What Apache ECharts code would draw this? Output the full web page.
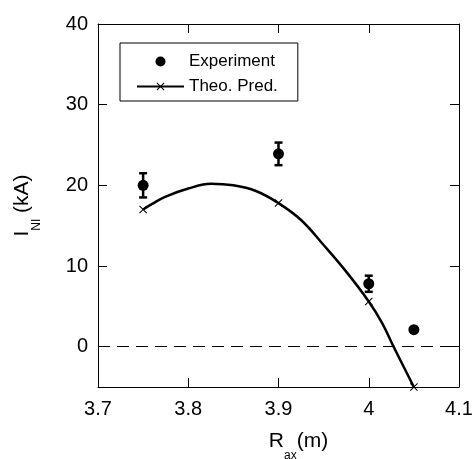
<!DOCTYPE html>
<html>
<head>
<meta charset="utf-8">
<script src="https://cdn.jsdelivr.net/npm/echarts@6/dist/echarts.min.js"></script>
<style>
  html, body { margin: 0; padding: 0; background: #fff; }
  #main { width: 475px; height: 459px; }
</style>
</head>
<body>
<div id="main"></div>
<script>
// measured points with error bars
var expX = [3.75, 3.9, 4.0, 4.05];
var expY = [20.0, 23.9, 7.8, 2.1];
var expErr = [1.5, 1.4, 1.0, 0];

// theoretical prediction points (x markers)
var predX = [3.75, 3.9, 4.0, 4.05];
var predY = [17.0, 17.8, 5.6, -5.0];

// fitted curve
var curveX = [3.75, 3.76, 3.775, 3.8, 3.825, 3.85, 3.875, 3.9, 3.925, 3.95, 3.975, 4.0, 4.015, 4.0275, 4.05];
var curveY = [17.0, 17.7, 18.6, 19.6, 20.2, 20.0, 19.3, 17.8, 15.7, 12.6, 9.3, 5.6, 2.9, 0.0, -5.0];

var xTicks = [3.7, 3.8, 3.9, 4.0, 4.1];
var yTicks = [0, 10, 20, 30, 40];

var FONT = 'Liberation Sans';
var crossPath = 'path://M0,0.9L0.9,0L10,9.1L9.1,10Z M9.1,0L10,0.9L0.9,10L0,9.1Z';

var curveData = curveX.map(function (x, i) {
  var k = predX.indexOf(x);
  if (k >= 0) return [x, predY[k]];
  return { value: [x, curveY[i]], symbol: 'none' };
});

var errData = [];
for (var i = 0; i < expX.length; i++) {
  if (expErr[i] > 0) errData.push([expX[i], expY[i] - expErr[i], expY[i] + expErr[i]]);
}

var chart = echarts.init(document.getElementById('main'));

var tickStyle = { inside: true, length: 9, lineStyle: { color: '#000', width: 1 } };
var lineStyle = { onZero: false, lineStyle: { color: '#000', width: 1 } };
var nameRich = {
  r: { fontFamily: FONT, fontSize: 21, lineHeight: 21, color: '#000', verticalAlign: 'bottom', padding: [0, 0, 10, 0] },
  s: { fontFamily: FONT, fontSize: 12, lineHeight: 12, color: '#000', verticalAlign: 'bottom' }
};

chart.setOption({
  animation: false,
  backgroundColor: '#fff',
  grid: { left: 98, right: 16, top: 24, bottom: 72, outerBoundsMode: 'none', containLabel: false },
  legend: {
    data: ['Experiment', 'Theo. Pred.'],
    orient: 'vertical',
    left: 120,
    top: 43,
    padding: [10, 20, 6, 16],
    borderColor: '#000',
    borderWidth: 1,
    itemWidth: 47,
    itemHeight: 10,
    itemGap: 8,
    textStyle: { fontFamily: FONT, fontSize: 17, color: '#000' }
  },
  xAxis: [{
    type: 'value',
    min: 3.7,
    max: 4.1,
    interval: 0.1,
    name: '{r|R}{s|ax}{r|(m)}',
    nameLocation: 'middle',
    nameGap: 54,
    nameTextStyle: { padding: [0, 0, 0, 40], rich: nameRich },
    axisLine: lineStyle,
    axisTick: tickStyle,
    axisLabel: {
      fontFamily: FONT, fontSize: 20, color: '#000', margin: 12,
      customValues: xTicks,
      formatter: function (v) { return String(+v.toFixed(1)); }
    },
    splitLine: { show: false }
  }, {
    type: 'value',
    position: 'top',
    min: 3.7,
    max: 4.1,
    interval: 0.1,
    axisLine: lineStyle,
    axisTick: tickStyle,
    axisLabel: { show: false },
    splitLine: { show: false }
  }],
  yAxis: [{
    type: 'value',
    min: -5,
    max: 40,
    name: '{r|I}{s|NI}{r| (kA)}',
    nameLocation: 'middle',
    nameGap: 55,
    nameTextStyle: { rich: nameRich },
    axisLine: Object.assign({ show: true }, lineStyle),
    axisTick: Object.assign({ customValues: yTicks }, tickStyle),
    axisLabel: { fontFamily: FONT, fontSize: 20, color: '#000', margin: 10, customValues: yTicks },
    splitLine: { show: false }
  }, {
    type: 'value',
    position: 'right',
    min: -5,
    max: 40,
    axisLine: Object.assign({ show: true }, lineStyle),
    axisTick: Object.assign({ customValues: yTicks }, tickStyle),
    axisLabel: { show: false, customValues: yTicks },
    splitLine: { show: false }
  }],
  series: [{
    name: 'Experiment',
    type: 'scatter',
    symbol: 'circle',
    symbolSize: 11,
    itemStyle: { color: '#000', opacity: 1 },
    z: 4,
    data: expX.map(function (x, i) { return [x, expY[i]]; }),
    markLine: {
      silent: true,
      symbol: 'none',
      label: { show: false },
      lineStyle: { color: '#000', width: 1, type: [12, 7], opacity: 1 },
      data: [{ yAxis: 0 }]
    }
  }, {
    name: 'errors',
    type: 'custom',
    z: 3,
    data: errData,
    renderItem: function (params, api) {
      var top = api.coord([api.value(0), api.value(2)]);
      var bot = api.coord([api.value(0), api.value(1)]);
      var hw = 4;
      var st = { stroke: '#000', lineWidth: 2.5 };
      return {
        type: 'group',
        children: [
          { type: 'line', shape: { x1: top[0], y1: top[1], x2: bot[0], y2: bot[1] }, style: st },
          { type: 'line', shape: { x1: top[0] - hw, y1: top[1], x2: top[0] + hw, y2: top[1] }, style: st },
          { type: 'line', shape: { x1: bot[0] - hw, y1: bot[1], x2: bot[0] + hw, y2: bot[1] }, style: st }
        ]
      };
    }
  }, {
    name: 'Theo. Pred.',
    type: 'line',
    symbol: crossPath,
    symbolSize: 8,
    showSymbol: true,
    showAllSymbol: true,
    smooth: 0.4,
    clip: false,
    itemStyle: { color: '#000' },
    lineStyle: { color: '#000', width: 2.5 },
    z: 2,
    data: curveData
  }]
});
</script>
</body>
</html>
